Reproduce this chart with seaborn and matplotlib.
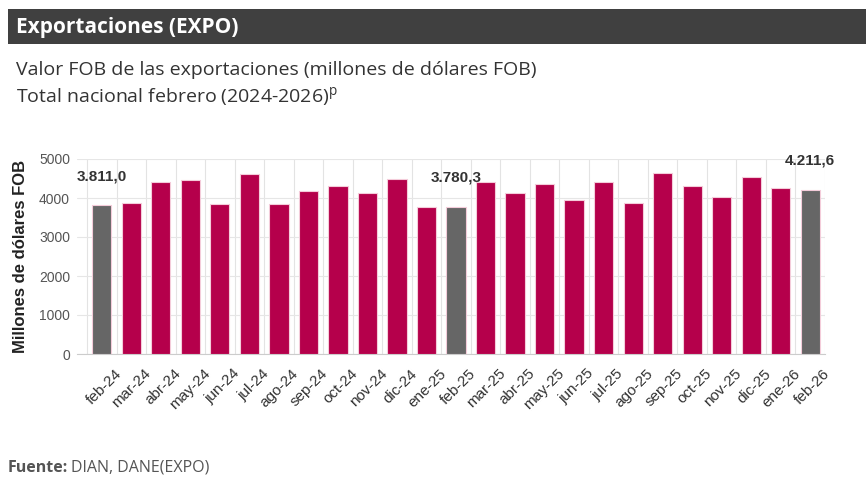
import numpy as np
import pandas as pd

import matplotlib
matplotlib.use("Agg")
import matplotlib.pyplot as plt
import matplotlib.transforms as mtransforms
from matplotlib.patches import Rectangle
from matplotlib.ticker import FixedLocator
import seaborn as sns

# ==========================================
# DATA
# ==========================================

months = [
    "feb-24", "mar-24", "abr-24", "may-24", "jun-24", "jul-24", "ago-24",
    "sep-24", "oct-24", "nov-24", "dic-24", "ene-25", "feb-25", "mar-25",
    "abr-25", "may-25", "jun-25", "jul-25", "ago-25", "sep-25", "oct-25",
    "nov-25", "dic-25", "ene-26", "feb-26"
]

values = [
    3811.0, 3872, 4408, 4449, 3854, 4627, 3837,
    4168, 4306, 4127, 4484, 3778, 3780.3, 4398,
    4117, 4357, 3956, 4423, 3872, 4645, 4295,
    4015, 4535, 4255, 4211.6
]

highlight = ["feb-24", "feb-25", "feb-26"]

labels = {"feb-24": "3.811,0", "feb-25": "3.780,3", "feb-26": "4.211,6"}

df = pd.DataFrame({"mes": months, "valor": values})
df["grupo"] = np.where(df["mes"].isin(highlight), "feb", "otro")

# ==========================================
# STYLE
# ==========================================

sns.set_theme(style="white")
plt.rcParams["font.family"] = ["Liberation Sans", "DejaVu Sans"]
plt.rcParams["mathtext.fontset"] = "custom"
plt.rcParams["mathtext.rm"] = "Open Sans"

RED = "#B5004B"
GRAY = "#666666"

fig = plt.figure(figsize=(8.66, 4.87), dpi=100)
fig.patch.set_facecolor("white")

W, H = 866, 487

# header bar
fig.patches.append(Rectangle((8 / W, 1 - 44 / H), 1 - 8 / W, 35 / H,
                             transform=fig.transFigure, facecolor="#404040",
                             edgecolor="none", zorder=0))
fig.text(16 / W, 1 - 27 / H, "Exportaciones (EXPO)", color="white",
         fontsize=15, fontweight="bold", family="Open Sans", va="center")

fig.text(16 / W, 1 - 70 / H,
         "Valor FOB de las exportaciones (millones de dólares FOB)",
         color="#333333", fontsize=14, family="Open Sans", va="center")
fig.text(16 / W, 1 - 97 / H,
         "Total nacional febrero (2024-2026)$^{\\mathrm{p}}$",
         color="#333333", fontsize=14, family="Open Sans", va="center")

# ==========================================
# CHART
# ==========================================

ax = fig.add_axes([77 / W, 1 - 354 / H, 748 / W, 195 / H])

sns.barplot(
    data=df,
    x="mes",
    y="valor",
    hue="grupo",
    palette={"feb": GRAY, "otro": RED},
    saturation=1,
    dodge=False,
    legend=False,
    width=0.65,
    edgecolor="#F4CCDA",
    linewidth=0.8,
    ax=ax,
    zorder=3
)

ax.set_xlim(-0.84, 24.5)
ax.set_ylim(0, 5000)
ax.set_yticks([0, 1000, 2000, 3000, 4000, 5000])

ax.xaxis.set_minor_locator(FixedLocator(np.arange(-0.5, 25, 1)))
ax.grid(axis="x", which="minor", color="#E3E3E3", linewidth=0.8, zorder=0)
ax.grid(axis="y", which="major", color="#E6E6E6", linewidth=0.8, zorder=0)
ax.set_axisbelow(True)

for side in ["top", "right", "left"]:
    ax.spines[side].set_visible(False)
ax.spines["bottom"].set_color("#CCCCCC")
ax.spines["bottom"].set_linewidth(0.8)

ax.tick_params(axis="y", length=0, pad=5, labelsize=10, labelcolor="#555555")
ax.tick_params(axis="x", which="major", length=0, pad=9, labelsize=11,
               labelcolor="#333333")
ax.tick_params(axis="x", which="minor", length=5, color="#DDDDDD", width=0.8)

offset = mtransforms.ScaledTranslation(9 / 72, 0, fig.dpi_scale_trans)
for lab in ax.get_xticklabels():
    lab.set_rotation(45)
    lab.set_ha("right")
    lab.set_rotation_mode("anchor")
    lab.set_transform(lab.get_transform() + offset)

ax.set_xlabel("")
ax.set_ylabel("Millones de dólares FOB", fontsize=12, fontweight="bold",
              color="#222222")
ax.yaxis.set_label_coords(-0.066, 0.5)

# value labels
for i, m in enumerate(months):
    if m in labels:
        ax.annotate(labels[m], (i, values[i]), xytext=(0, 21),
                    textcoords="offset points", ha="center", va="center",
                    fontsize=11, fontweight="bold", color="#333333")

# ==========================================
# FOOTER
# ==========================================

t1 = fig.text(8 / W, 1 - 468 / H, "Fuente:", fontsize=11.5, fontweight="bold",
              family="Open Sans", color="#555555", va="center")
fig.canvas.draw()
bb = t1.get_window_extent()
fig.text((bb.x1 + 3) / W, 1 - 468 / H, "DIAN, DANE(EXPO)", fontsize=11.5,
         family="Open Sans", color="#555555", va="center")

fig.savefig("out.png", dpi=100)
